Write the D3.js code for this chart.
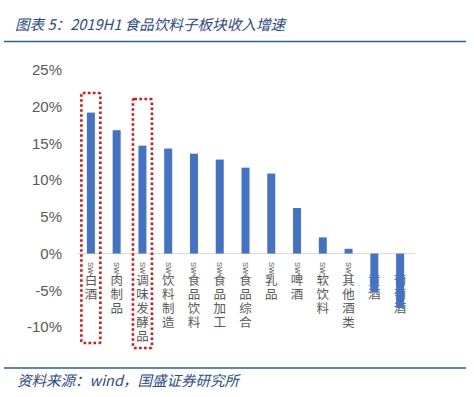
<!DOCTYPE html>
<html>
<head>
<meta charset="utf-8">
<script src="https://cdn.jsdelivr.net/npm/d3@7"></script>
<style>
  body { margin: 0; background: #fff; }
  svg { display: block; }
</style>
</head>
<body>
<script>
// data
var categories = ["白酒", "肉制品", "调味发酵品", "饮料制造", "食品饮料", "食品加工", "食品综合",
                  "乳品", "啤酒", "软饮料", "其他酒类", "黄酒", "葡萄酒"];
var growth = [19.2, 16.8, 14.7, 14.3, 13.6, 12.8, 11.7, 10.9, 6.2, 2.2, 0.65, -5.3, -7.4];
var yTicks = [-10, -5, 0, 5, 10, 15, 20, 25];
var highlighted = ["白酒", "调味发酵品"];

var width = 474, height = 397;
var cjk = "'Noto Sans CJK SC', 'Noto Sans', sans-serif";

var svg = d3.select("body").append("svg")
    .attr("width", width)
    .attr("height", height);

// title + rule
svg.append("text")
    .attr("x", 15)
    .attr("y", 30)
    .attr("font-family", cjk)
    .attr("font-size", 14.6)
    .attr("font-style", "italic")
    .attr("fill", "#2A4A8C")
    .text("图表 5：2019H1 食品饮料子板块收入增速");

svg.append("line")
    .attr("x1", 4).attr("x2", 466)
    .attr("y1", 41.5).attr("y2", 41.5)
    .attr("stroke", "#2F5AA6")
    .attr("stroke-width", 1.6);

// scales
var x = d3.scaleBand()
    .domain(categories)
    .range([78, 413])
    .paddingInner(0.69)
    .paddingOuter(0.345);

var y = d3.scaleLinear()
    .domain([-10, 25])
    .range([327, 70]);

// y tick labels (no axis line)
svg.append("g")
    .attr("transform", "translate(70,0)")
    .call(d3.axisLeft(y).tickValues(yTicks).tickSize(0).tickPadding(8)
      .tickFormat(function(d) { return d + "%"; }))
    .call(function(g) { g.select(".domain").remove(); })
    .selectAll("text")
      .attr("font-family", "'Liberation Sans', Arial, sans-serif")
      .attr("font-size", 15)
      .attr("fill", "#595959");

// category labels stacked top to bottom: "SW" turned sideways, then one hanzi per line
var labels = svg.append("g")
  .selectAll("g")
  .data(categories)
  .enter().append("g")
    .attr("transform", function(d) { return "translate(" + (x(d) + x.bandwidth() / 2) + ",0)"; });

labels.append("text")
    .attr("transform", "translate(-2.5,262) rotate(90)")
    .attr("font-family", "'Liberation Sans', Arial, sans-serif")
    .attr("font-size", 7.5)
    .attr("fill", "#595959")
    .text("SW");

labels.selectAll(".ch")
    .data(function(d) { return d.split(""); })
    .enter().append("text")
    .attr("class", "ch")
    .attr("x", 0)
    .attr("y", function(d, i) { return 280 + i * 14; })
    .attr("dy", "0.36em")
    .attr("text-anchor", "middle")
    .attr("font-family", cjk)
    .attr("font-size", 12.5)
    .attr("fill", "#595959")
    .text(function(d) { return d; });

// zero line
svg.append("line")
    .attr("x1", 78).attr("x2", 415)
    .attr("y1", y(0)).attr("y2", y(0))
    .attr("stroke", "#D9D9D9")
    .attr("stroke-width", 1);

// bars
svg.selectAll(".bar")
    .data(growth)
    .enter().append("rect")
    .attr("class", "bar")
    .attr("x", function(d, i) { return x(categories[i]); })
    .attr("width", x.bandwidth())
    .attr("y", function(d) { return y(Math.max(d, 0)); })
    .attr("height", function(d) { return Math.abs(y(d) - y(0)); })
    .attr("fill", "#4472C4");

// red dotted boxes around highlighted categories
var boxTop = { "白酒": 93, "调味发酵品": 99 };
var boxBottom = { "白酒": 343, "调味发酵品": 348 };
svg.selectAll(".hl")
    .data(highlighted)
    .enter().append("rect")
    .attr("class", "hl")
    .attr("x", function(d) { return x(d) + x.bandwidth() / 2 - 9.5; })
    .attr("width", 19)
    .attr("y", function(d) { return boxTop[d]; })
    .attr("height", function(d) { return boxBottom[d] - boxTop[d]; })
    .attr("rx", 1.5)
    .attr("fill", "none")
    .attr("stroke", "#E01010")
    .attr("stroke-width", 2.6)
    .attr("stroke-dasharray", "2.6,2.4");

// source rule + note
svg.append("line")
    .attr("x1", 4).attr("x2", 466)
    .attr("y1", 368).attr("y2", 368)
    .attr("stroke", "#2F5AA6")
    .attr("stroke-width", 1.6);

svg.append("text")
    .attr("x", 17)
    .attr("y", 386)
    .attr("font-family", cjk)
    .attr("font-size", 14.5)
    .attr("font-style", "italic")
    .attr("fill", "#2A4A8C")
    .text("资料来源：wind，国盛证券研究所");
</script>
</body>
</html>
